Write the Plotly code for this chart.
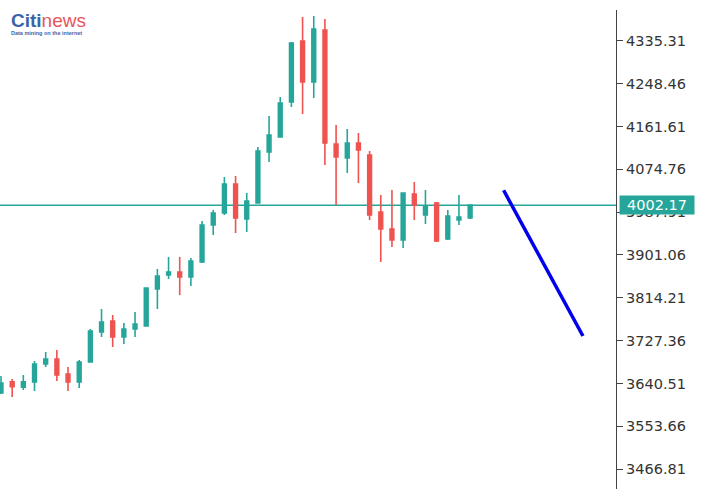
import plotly.graph_objects as go

# Candle index (sequential bars)
bar_index = list(range(43))

opens = [3621.2, 3644.1, 3632.8, 3643.5, 3680.0, 3690.2, 3659.7, 3643.5, 3684.1, 3744.9,
         3767.2, 3734.8, 3751.0, 3757.1, 3832.1, 3860.5, 3866.6, 3856.4, 3886.9, 3961.9,
         3986.2, 4045.0, 3974.1, 4006.5, 4110.0, 4140.4, 4211.3, 4335.1, 4251.9, 4357.4,
         4126.2, 4097.8, 4128.2, 4103.9, 3988.3, 3953.8, 3931.5, 4024.8, 3982.2, 4006.5,
         3933.5, 3972.0, 3976.1]
highs = [3655.7, 3649.6, 3657.7, 3686.1, 3704.4, 3708.4, 3674.0, 3688.1, 3751.0, 3791.5,
         3779.4, 3763.2, 3785.5, 3835.0, 3872.7, 3897.0, 3897.0, 3895.0, 3970.0, 3992.3,
         4059.2, 4061.3, 4026.8, 4120.1, 4183.0, 4221.5, 4333.0, 4383.7, 4385.7, 4379.7,
         4164.7, 4156.6, 4148.5, 4112.0, 4022.7, 4032.9, 4028.0, 4049.1, 4032.9, 4008.5,
         3992.3, 4022.7, 4003.0]
lows = [3619.0, 3613.1, 3627.3, 3625.3, 3674.0, 3645.5, 3625.3, 3631.4, 3684.1, 3734.8,
        3714.5, 3720.6, 3734.8, 3756.0, 3791.5, 3852.4, 3820.0, 3838.2, 3885.0, 3941.6,
        3982.2, 3945.7, 3947.7, 4005.0, 4089.7, 4140.4, 4201.2, 4187.0, 4219.5, 4083.6,
        4002.5, 4067.4, 4047.1, 3972.0, 3886.9, 3917.3, 3915.3, 3972.0, 3963.9, 3927.5,
        3931.5, 3961.9, 3974.1]
closes = [3641.5, 3634.0, 3644.1, 3680.0, 3690.2, 3657.7, 3643.5, 3684.1, 3747.0, 3765.2,
          3734.8, 3751.0, 3761.2, 3834.1, 3858.5, 3866.6, 3856.4, 3888.9, 3961.9, 3986.2,
          4045.0, 3976.1, 4010.6, 4112.0, 4144.4, 4209.3, 4331.0, 4251.9, 4359.4, 4128.2,
          4099.8, 4128.2, 4114.0, 3982.2, 3953.8, 3931.5, 4026.8, 4002.5, 4000.4, 3929.5,
          3980.2, 3978.1, 4002.17]

current_price = 4002.17

# Forecast arrow line
forecast_x = [45.0, 52.1]
forecast_y = [4032.3, 3736.8]

tick_values = [3466.81, 3553.66, 3640.51, 3727.36, 3814.21, 3901.06,
               3987.91, 4074.76, 4161.61, 4248.46, 4335.31]
tick_labels = ["3466.81", "3553.66", "3640.51", "3727.36", "3814.21", "3901.06",
               "3987.91", "4074.76", "4161.61", "4248.46", "4335.31"]

GREEN = "#26a69a"
RED = "#ef5350"

fig = go.Figure()
fig.add_trace(go.Candlestick(
    x=bar_index, open=opens, high=highs, low=lows, close=closes,
    increasing=dict(line=dict(color=GREEN, width=1.6), fillcolor=GREEN),
    decreasing=dict(line=dict(color=RED, width=1.6), fillcolor=RED),
    whiskerwidth=0, hoverinfo="skip", showlegend=False,
))
fig.add_trace(go.Scatter(
    x=forecast_x, y=forecast_y, mode="lines",
    line=dict(color="#0000ee", width=3.5), hoverinfo="skip", showlegend=False,
))

fig.add_shape(type="line", xref="paper", x0=0, x1=1, yref="y",
              y0=current_price, y1=current_price,
              line=dict(color=GREEN, width=1.5), layer="below")

fig.add_annotation(xref="paper", x=1, xanchor="left", xshift=3,
                   yref="y", y=current_price, yanchor="middle",
                   text=f"{current_price:.2f}", showarrow=False,
                   font=dict(family="DejaVu Sans", size=14.5, color="white"),
                   bgcolor=GREEN, borderpad=1, width=72, align="center")

# Logo
fig.add_annotation(xref="paper", yref="paper", x=0.014, y=1.005, xanchor="left", yanchor="top",
                   text="<span style='color:#3b64a8'><b>Citi</b></span><span style='color:#e8555a'>news</span>",
                   showarrow=False, font=dict(family="Liberation Sans", size=19))
fig.add_annotation(xref="paper", yref="paper", x=0.015, y=0.962, xanchor="left", yanchor="top",
                   text="<b>Data mining on the internet</b>", showarrow=False,
                   font=dict(family="Liberation Sans", size=5.5, color="#3b64a8"))

fig.update_layout(
    width=708, height=489,
    margin=dict(l=0, r=92, t=10, b=0),
    paper_bgcolor="white", plot_bgcolor="white",
    boxgap=0.52,
    xaxis=dict(range=[-0.09, 55.06], visible=False, rangeslider=dict(visible=False),
               showgrid=False, zeroline=False),
    yaxis=dict(range=[3426.5, 4397.9], side="right", showgrid=False, zeroline=False,
               showline=True, linecolor="#444", linewidth=1.2,
               ticks="outside", ticklen=6, tickcolor="#444", tickwidth=1,
               tickvals=tick_values, ticktext=tick_labels,
               tickfont=dict(family="DejaVu Sans", size=14.5, color="#333")),
)

fig.write_html("out.html", config={"displayModeBar": False},
               post_script="document.body.style.margin='0px';document.body.style.overflow='hidden';")
